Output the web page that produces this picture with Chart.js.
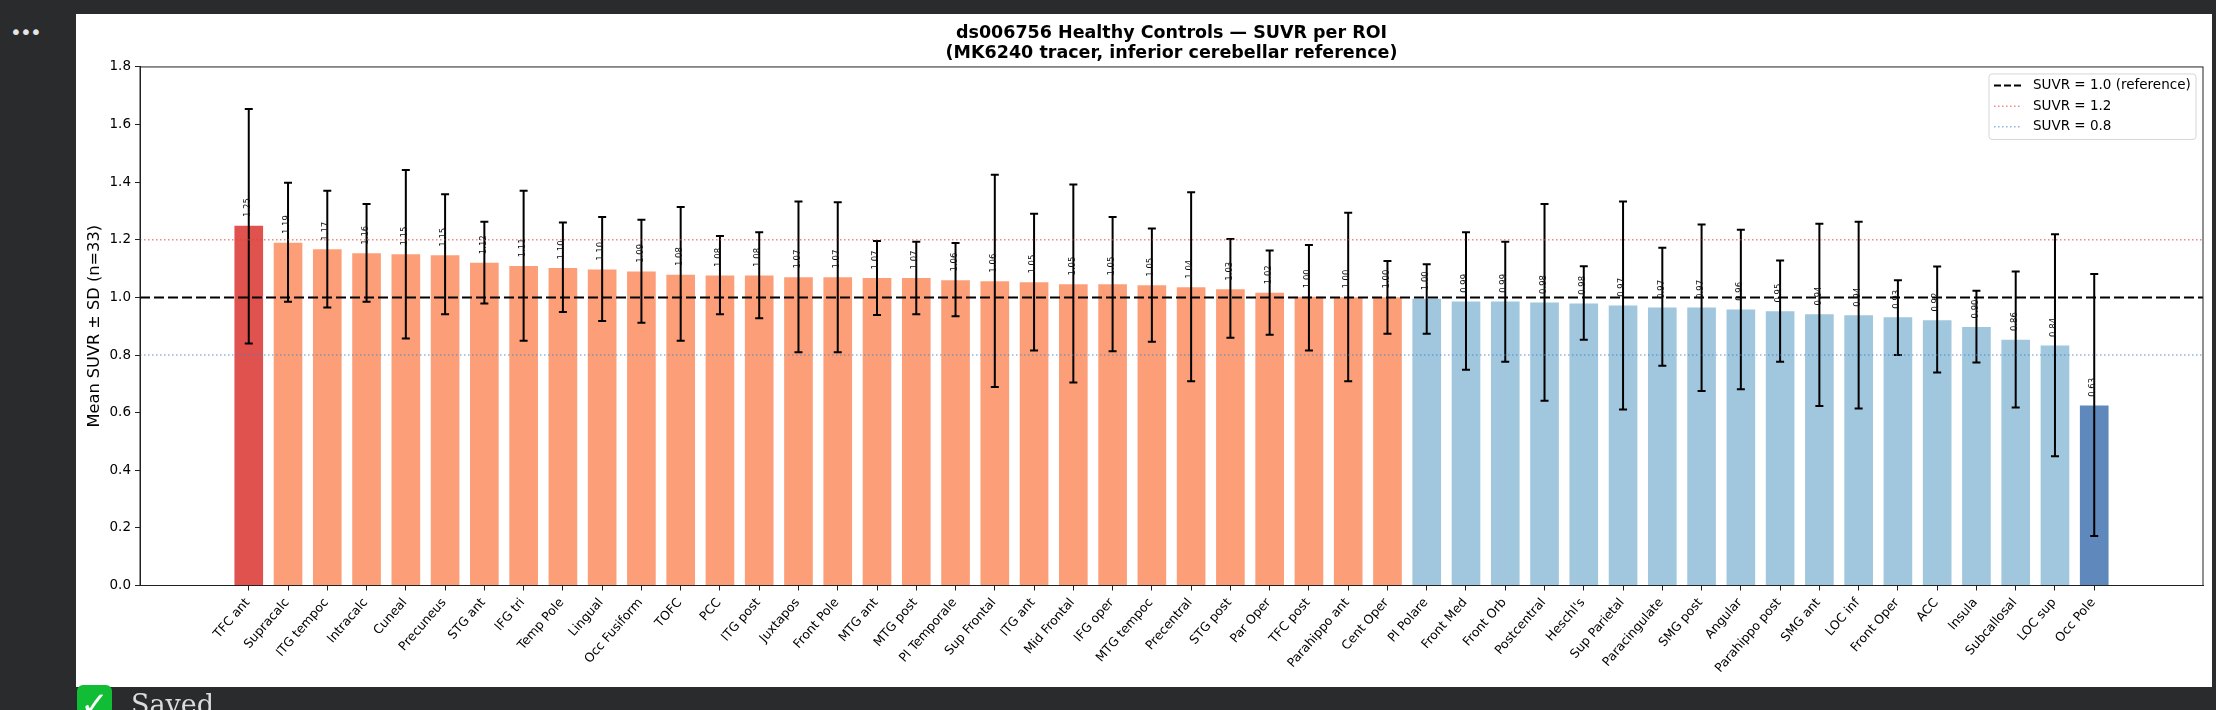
<!DOCTYPE html>
<html>
<head>
<meta charset="utf-8">
<title>SUVR per ROI</title>
<script src="https://cdn.jsdelivr.net/npm/chart.js@4"></script>
<style>
html, body { margin: 0; height: 100%; background: #2a2b2d; overflow: hidden; }
#panel { position: absolute; left: 76px; top: 14px; width: 2136px; height: 673px; background: #fff; }
#dots { position: absolute; left: 10px; top: 22px; color: #e6e6e6; font: 20px "DejaVu Sans"; letter-spacing: -1.8px; line-height: 20px; }
#check { position: absolute; left: 77px; top: 685px; width: 35px; height: 30px; border-radius: 6px; background: #10bd34; color: #fff; font: 34px "DejaVu Sans"; text-align: center; line-height: 38px; }
#saved { position: absolute; left: 131px; top: 690px; color: #dcdcdc; font: 27px "DejaVu Serif"; line-height: 30px; }
</style>
</head>
<body>
<div id="dots">•••</div>
<div id="panel"><canvas id="myChart" width="2136" height="673"></canvas></div>
<div id="check">✓</div>
<div id="saved">Saved</div>
<script>
const FONT = '"DejaVu Sans", sans-serif';

const roiNames = [
    'TFC ant', 'Supracalc', 'ITG tempoc', 'Intracalc', 'Cuneal', 'Precuneus', 'STG ant', 'IFG tri',
    'Temp Pole', 'Lingual', 'Occ Fusiform', 'TOFC', 'PCC', 'ITG post', 'Juxtapos', 'Front Pole',
    'MTG ant', 'MTG post', 'Pl Temporale', 'Sup Frontal', 'ITG ant', 'Mid Frontal', 'IFG oper', 'MTG tempoc',
    'Precentral', 'STG post', 'Par Oper', 'TFC post', 'Parahippo ant', 'Cent Oper', 'Pl Polare', 'Front Med',
    'Front Orb', 'Postcentral', "Heschl's", 'Sup Parietal', 'Paracingulate', 'SMG post', 'Angular', 'Parahippo post',
    'SMG ant', 'LOC inf', 'Front Oper', 'ACC', 'Insula', 'Subcallosal', 'LOC sup', 'Occ Pole'
];
const meanSuvr = [
    1.249, 1.190, 1.167, 1.153, 1.150, 1.146, 1.120, 1.109,
    1.102, 1.097, 1.090, 1.079, 1.076, 1.076, 1.070, 1.070,
    1.067, 1.067, 1.060, 1.056, 1.053, 1.046, 1.046, 1.042,
    1.035, 1.028, 1.016, 1.002, 1.001, 1.001, 0.995, 0.986,
    0.986, 0.982, 0.979, 0.972, 0.965, 0.965, 0.958, 0.952,
    0.942, 0.938, 0.931, 0.921, 0.897, 0.853, 0.833, 0.625
];
const errHigh = [
    1.654, 1.398, 1.370, 1.324, 1.442, 1.358, 1.263, 1.370,
    1.260, 1.279, 1.270, 1.314, 1.213, 1.226, 1.333, 1.330,
    1.196, 1.193, 1.189, 1.426, 1.290, 1.392, 1.279, 1.239,
    1.365, 1.203, 1.163, 1.182, 1.294, 1.126, 1.115, 1.226,
    1.193, 1.324, 1.108, 1.333, 1.172, 1.253, 1.235, 1.128,
    1.256, 1.263, 1.060, 1.107, 1.023, 1.090, 1.219, 1.081
];
const errLow = [
    0.840, 0.985, 0.965, 0.985, 0.857, 0.942, 0.979, 0.850,
    0.949, 0.918, 0.912, 0.850, 0.942, 0.928, 0.810, 0.810,
    0.939, 0.942, 0.935, 0.689, 0.816, 0.705, 0.813, 0.846,
    0.709, 0.860, 0.870, 0.816, 0.709, 0.874, 0.874, 0.749,
    0.777, 0.641, 0.853, 0.611, 0.763, 0.675, 0.681, 0.777,
    0.623, 0.614, 0.800, 0.739, 0.774, 0.618, 0.449, 0.172
];
const barLabels = [
    '1.25', '1.19', '1.17', '1.16', '1.15', '1.15', '1.12', '1.11',
    '1.10', '1.10', '1.09', '1.08', '1.08', '1.08', '1.07', '1.07',
    '1.07', '1.07', '1.06', '1.06', '1.05', '1.05', '1.05', '1.05',
    '1.04', '1.03', '1.02', '1.00', '1.00', '1.00', '1.00', '0.99',
    '0.99', '0.98', '0.98', '0.97', '0.97', '0.97', '0.96', '0.95',
    '0.94', '0.94', '0.93', '0.92', '0.90', '0.86', '0.84', '0.63'
];
const refLevels = [1.0, 1.2, 0.8];
const refNames = ['SUVR = 1.0 (reference)', 'SUVR = 1.2', 'SUVR = 0.8'];

const X_MIN = -2.77, X_MAX = 49.77;

function barColor(v) {
    if (v > 1.2) return '#e0524d';
    if (v >= 1.0) return '#fc9f78';
    if (v >= 0.8) return '#a0c7de';
    return '#5f88bd';
}

const refStyles = [
    { color: '#000000', width: 2, dash: [10, 4] },
    { color: 'rgba(225,60,60,0.6)', width: 1.5, dash: [1.5, 2.5] },
    { color: 'rgba(70,130,200,0.6)', width: 1.5, dash: [1.5, 2.5] }
];

const annotate = {
    id: 'annotate',
    afterDatasetDraw(chart, args) {
        if (args.index !== 0) return;
        const { ctx, scales: { x, y } } = chart;
        ctx.save();
        ctx.strokeStyle = '#000';
        ctx.lineWidth = 2;
        meanSuvr.forEach((m, i) => {
            const px = x.getPixelForValue(i);
            const hi = y.getPixelForValue(errHigh[i]);
            const lo = y.getPixelForValue(errLow[i]);
            ctx.beginPath();
            ctx.moveTo(px, hi); ctx.lineTo(px, lo);
            ctx.moveTo(px - 4, hi); ctx.lineTo(px + 4, hi);
            ctx.moveTo(px - 4, lo); ctx.lineTo(px + 4, lo);
            ctx.stroke();
        });
        ctx.restore();
    },
    afterDatasetsDraw(chart) {
        const { ctx, chartArea: a, scales: { x, y } } = chart;
        ctx.save();
        // value labels
        ctx.fillStyle = '#111';
        ctx.font = '8.5px ' + FONT;
        ctx.textAlign = 'left';
        ctx.textBaseline = 'middle';
        meanSuvr.forEach((m, i) => {
            ctx.save();
            ctx.translate(x.getPixelForValue(i) - 1, y.getPixelForValue(m + 0.03));
            ctx.rotate(-Math.PI / 2);
            ctx.fillText(barLabels[i], 0, 0);
            ctx.restore();
        });
        // frame
        ctx.strokeStyle = '#222';
        ctx.lineWidth = 1;
        ctx.strokeRect(a.left, a.top, a.right - a.left, a.bottom - a.top);
        // legend box
        const bx = a.right - 214, by = a.top + 7, bw = 207, bh = 65.5;
        ctx.fillStyle = 'rgba(255,255,255,0.8)';
        ctx.strokeStyle = '#d6d6d6';
        ctx.beginPath();
        ctx.roundRect(bx, by, bw, bh, 3);
        ctx.fill();
        ctx.stroke();
        ctx.font = '13.5px ' + FONT;
        ctx.textBaseline = 'middle';
        refNames.forEach((name, i) => {
            const ly = by + 11.5 + i * 20.7;
            const s = refStyles[i];
            ctx.strokeStyle = s.color;
            ctx.lineWidth = s.width;
            ctx.setLineDash(i === 0 ? [7, 3] : s.dash);
            ctx.beginPath();
            ctx.moveTo(bx + 5, ly);
            ctx.lineTo(bx + 32, ly);
            ctx.stroke();
            ctx.setLineDash([]);
            ctx.fillStyle = '#000';
            ctx.fillText(name, bx + 44, ly);
        });
        ctx.restore();
    }
};

new Chart(document.getElementById('myChart'), {
    data: {
        datasets: [
            {
                type: 'bar',
                label: 'Mean SUVR',
                data: meanSuvr.map((v, i) => ({ x: i, y: v })),
                backgroundColor: meanSuvr.map(barColor),
                categoryPercentage: 1,
                barPercentage: 0.73,
                order: 2
            },
            ...refLevels.map((lvl, i) => ({
                type: 'line',
                label: refNames[i],
                data: [{ x: X_MIN, y: lvl }, { x: X_MAX, y: lvl }],
                borderColor: refStyles[i].color,
                borderWidth: refStyles[i].width,
                borderDash: refStyles[i].dash,
                pointRadius: 0,
                order: 1
            }))
        ]
    },
    options: {
        responsive: false,
        animation: false,
        layout: { padding: { left: 0, right: 9, top: 0, bottom: 0 } },
        plugins: {
            legend: { display: false },
            tooltip: { enabled: false },
            title: {
                display: true,
                fullSize: false,
                text: ['ds006756 Healthy Controls — SUVR per ROI', '(MK6240 tracer, inferior cerebellar reference)'],
                color: '#000',
                font: { family: FONT, size: 17.5, weight: 'bold', lineHeight: 1.17 },
                padding: { top: 9, bottom: 3 }
            }
        },
        scales: {
            x: {
                type: 'linear',
                offset: false,
                min: X_MIN,
                max: X_MAX,
                afterBuildTicks(s) { s.ticks = roiNames.map((_, i) => ({ value: i })); },
                afterFit(s) { s.height = 101.5; },
                grid: { display: true, offset: false, drawOnChartArea: false, tickLength: 5, tickColor: '#222' },
                border: { color: '#222' },
                ticks: {
                    autoSkip: false,
                    minRotation: 49,
                    maxRotation: 49,
                    padding: 5,
                    labelOffset: -1,
                    color: '#000',
                    font: { family: FONT, size: 12.5 },
                    callback: v => roiNames[v]
                }
            },
            y: {
                min: 0,
                max: 1.8,
                afterFit(s) { s.width = 64; },
                grid: { display: true, drawOnChartArea: false, tickLength: 5, tickColor: '#222' },
                border: { color: '#222' },
                title: {
                    display: true,
                    text: 'Mean SUVR ± SD (n=33)',
                    color: '#000',
                    font: { family: FONT, size: 16.2 },
                    padding: { top: 9, bottom: 0 }
                },
                ticks: {
                    stepSize: 0.2,
                    padding: 4,
                    color: '#000',
                    font: { family: FONT, size: 13.5 },
                    callback: v => v.toFixed(1)
                }
            }
        }
    },
    plugins: [annotate]
});
</script>
</body>
</html>
